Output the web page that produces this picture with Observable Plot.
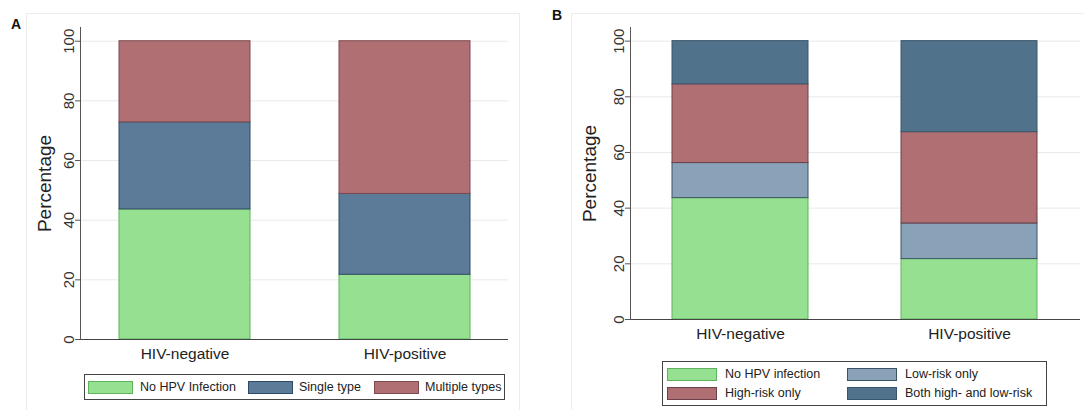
<!DOCTYPE html>
<html>
<head>
<meta charset="utf-8">
<script src="https://cdn.jsdelivr.net/npm/d3@7"></script>
<script src="https://cdn.jsdelivr.net/npm/@observablehq/plot@0.6"></script>
<style>
  html, body { margin: 0; padding: 0; background: #fff; }
  body { width: 1084px; height: 410px; overflow: hidden; position: relative; font-family: "Liberation Sans", Arial, sans-serif; }
  .abs { position: absolute; }
  .pframe { position: absolute; border: 1px solid #ececec; box-sizing: border-box; }
  .plabel { position: absolute; font-weight: bold; font-size: 14px; color: #111; }
  .legend { position: absolute; border: 1px solid #444; box-sizing: border-box; background: #fff; }
  .sw { position: absolute; box-sizing: border-box; }
  .lt { position: absolute; font-size: 12.5px; color: #222; white-space: nowrap; line-height: 14px; }
</style>
</head>
<body>
<div class="pframe" style="left:26px;top:13px;width:494px;height:420px;"></div>
<div class="pframe" style="left:571px;top:13px;width:600px;height:420px;"></div>
<div class="plabel" style="left:11px;top:16px;">A</div>
<div class="plabel" style="left:552px;top:7px;">B</div>
<div id="chartA" class="abs" style="left:0px;top:0px;"></div>
<div id="chartB" class="abs" style="left:545px;top:0px;"></div>
<div id="legendA" class="legend" style="left:84px;top:374px;width:421px;height:26px;"></div>
<div id="legendB" class="legend" style="left:662px;top:361px;width:385px;height:45px;"></div>
<script>
// ---- data ----
const categories = ["HIV-negative", "HIV-positive"];
const yTicks = [0, 20, 40, 60, 80, 100];

const seriesA = ["No HPV Infection", "Single type", "Multiple types"];
const noHpvA = [43.6, 21.7];
const singleA = [29.2, 27.1];
const multipleA = [27.2, 51.2];

const seriesB = ["No HPV infection", "Low-risk only", "High-risk only", "Both high- and low-risk"];
const noHpvB = [43.6, 21.7];
const lowRiskB = [12.6, 12.8];
const highRiskB = [28.3, 32.8];
const bothB = [15.5, 32.7];

// ---- styles ----
const colorsA = ["#96e092", "#5c7b99", "#b06f72"];
const strokesA = ["#5fb35c", "#2f4a66", "#7e4a50"];
const colorsB = ["#96e092", "#8aa2b8", "#b06f72", "#50728a"];
const strokesB = ["#5fb35c", "#3b5565", "#6e4048", "#3a566b"];

function stacked(series, values) {
  const out = [];
  categories.forEach((c, j) => {
    let acc = 0;
    series.forEach((s, i) => {
      const v = values[i][j];
      out.push({cat: c, series: s, idx: i, y1: acc, y2: acc + v});
      acc += v;
    });
  });
  return out;
}

function panel(o) {
  const data = stacked(o.series, o.values);
  return Plot.plot({
    width: o.width, height: o.height,
    marginLeft: o.marginLeft, marginRight: o.marginRight,
    marginTop: o.marginTop, marginBottom: o.marginBottom,
    style: {fontFamily: "Liberation Sans, Arial, sans-serif", background: "transparent", overflow: "visible"},
    x: {domain: categories, paddingInner: o.pi, paddingOuter: o.po, label: null},
    y: {domain: [0, o.yMax], label: null},
    marks: [
      Plot.ruleY(yTicks.filter(d => d > 0), {stroke: "#e9e9e9", strokeWidth: 1}),
      ...o.series.map((s, i) => Plot.barY(data.filter(d => d.idx === i), {
        x: "cat", y1: "y1", y2: "y2", fill: o.colors[i], stroke: o.strokes[i], strokeWidth: 1
      })),
      Plot.axisX({tickSize: 0, tickPadding: 8, fontSize: 15.5, color: "#222", label: null}),
      Plot.axisY({ticks: yTicks, tickSize: 5, tickFormat: () => "", label: null, stroke: "#555"}),
      Plot.text(yTicks, {y: d => d, text: d => String(d), frameAnchor: "left", dx: -7, rotate: -90,
        lineAnchor: "bottom", textAnchor: "middle", fontSize: 15, fill: "#333"}),
      Plot.text(["Percentage"], {frameAnchor: "left", dx: o.labelDx, rotate: -90, textAnchor: "middle",
        lineAnchor: "middle", fontSize: 19, fill: "#222"}),
      Plot.ruleY([0], {stroke: "#444", strokeWidth: 1.2}),
      Plot.frame({anchor: "left", stroke: "#555"})
    ]
  });
}

document.getElementById("chartA").append(panel({
  series: seriesA, values: [noHpvA, singleA, multipleA], colors: colorsA, strokes: strokesA,
  width: 540, height: 370, marginLeft: 80, marginRight: 32, marginTop: 27, marginBottom: 31,
  yMax: 104.6, pi: 0.405, po: 0.173, labelDx: -36
}));

document.getElementById("chartB").append(panel({
  series: seriesB, values: [noHpvB, lowRiskB, highRiskB, bothB], colors: colorsB, strokes: strokesB,
  width: 539, height: 345, marginLeft: 85, marginRight: 4, marginTop: 27, marginBottom: 26,
  yMax: 104.9, pi: 0.406, po: 0.183, labelDx: -41
}));

// ---- legends ----
function addItem(el, color, stroke, label, sx, sy, sw, sh, tx) {
  const s = document.createElement("div");
  s.className = "sw";
  s.style.cssText = `left:${sx}px;top:${sy}px;width:${sw}px;height:${sh}px;background:${color};border:1px solid ${stroke};`;
  el.append(s);
  const t = document.createElement("div");
  t.className = "lt";
  t.style.cssText = `left:${tx}px;top:${sy - 1}px;`;
  t.textContent = label;
  el.append(t);
}
const lA = document.getElementById("legendA");
const axPos = [[3, 55], [163, 214], [289, 340]];
seriesA.forEach((s, i) => addItem(lA, colorsA[i], strokesA[i], s, axPos[i][0], 6, 45, 13, axPos[i][1]));

const lB = document.getElementById("legendB");
const bPos = [[4, 6, 62], [184, 6, 242], [4, 25, 62], [184, 25, 242]];
seriesB.forEach((s, i) => addItem(lB, colorsB[i], strokesB[i], s, bPos[i][0], bPos[i][1], 50, 13, bPos[i][2]));
</script>
</body>
</html>
